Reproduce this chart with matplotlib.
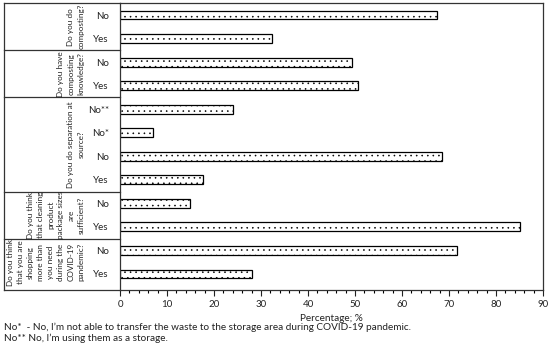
import matplotlib
matplotlib.use("Agg")
import matplotlib.pyplot as plt
from matplotlib.ticker import MultipleLocator

plt.rcParams["font.family"] = ["Lato", "DejaVu Sans"]
plt.rcParams["hatch.color"] = "#555555"
plt.rcParams["hatch.linewidth"] = 0.4

# rows listed from bottom to top
answers = ["Yes", "No", "Yes", "No", "Yes", "No", "No*", "No**", "Yes", "No", "Yes", "No"]
percentages = [28.1, 71.7, 85.0, 14.9, 17.7, 68.5, 7.0, 24.0, 50.6, 49.4, 32.3, 67.4]

questions = [
    ["Do you think", "that you are", "shopping", "more than", "you need", "during the", "COVID-19", "pandemic?"],
    ["Do you think", "that cleaning", "product", "package sizes", "are", "sufficient?"],
    ["Do you do separation at", "source?"],
    ["Do you have", "composting", "knowledge?"],
    ["Do you do", "composting?"],
]
group_sizes = [2, 2, 4, 2, 2]

footnotes = [
    "No*  - No, I\u2019m not able to transfer the waste to the storage area during COVID-19 pandemic.",
    "No** No, I\u2019m using them as a storage.",
]

fig = plt.figure(figsize=(5.5, 3.43), dpi=100)
ax = fig.add_axes([120 / 550, 1 - 290 / 343, 423 / 550, 287 / 343])

rows = list(range(len(answers)))
ax.barh(rows, percentages, height=0.38, color="white", edgecolor="black",
        linewidth=0.9, hatch="...")

ax.set_xlim(0, 90)
ax.set_ylim(-0.68, 11.51)
ax.xaxis.set_major_locator(MultipleLocator(10))
ax.xaxis.set_minor_locator(MultipleLocator(2))
ax.tick_params(axis="x", which="major", length=4, width=0.8, labelsize=7, pad=3, colors="#222222")
ax.tick_params(axis="x", which="minor", length=2.5, width=0.8)
ax.set_yticks(rows)
ax.set_yticklabels(answers, fontsize=7, color="#222222")
ax.tick_params(axis="y", length=0, pad=8)
ax.set_xlabel("Percentage; %", fontsize=7.2, color="#222222", labelpad=4)
for s in ax.spines.values():
    s.set_linewidth(0.9)
    s.set_color("#333333")

# table of questions on the left
tr = ax.get_yaxis_transform()
x_left = -116 / 423
lkw = dict(transform=tr, clip_on=False, color="#333333", lw=0.9)
ax.plot([x_left, x_left], [-0.68, 11.51], **lkw)
ax.plot([x_left, 0], [11.51, 11.51], **lkw)
ax.plot([x_left, 0], [-0.68, -0.68], **lkw)

start = 0
for lines, n in zip(questions, group_sizes):
    center = start + (n - 1) / 2
    k = len(lines)
    for i, line in enumerate(lines):
        x_px = 81 - (k - 1 - i) * 10.1
        ax.text((x_px - 120) / 423, center, line, transform=tr, rotation=90,
                ha="center", va="center", fontsize=5.9, color="#222222")
    start += n
    if start < len(answers):
        ax.plot([x_left, 0], [start - 0.5, start - 0.5], **lkw)

fig.text(4 / 550, 1 - 327 / 343, footnotes[0], fontsize=7.2, color="#222222", va="center")
fig.text(4 / 550, 1 - 338 / 343, footnotes[1], fontsize=7.2, color="#222222", va="center")

fig.savefig("out.png", dpi=100)
